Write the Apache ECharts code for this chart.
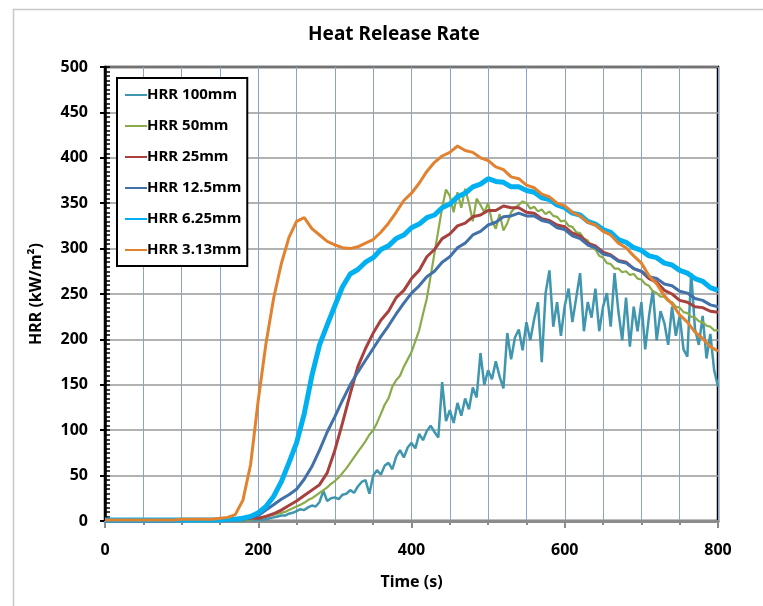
<!DOCTYPE html>
<html lang="en">
<head>
<meta charset="UTF-8">
<title>Heat Release Rate</title>
<script src="https://cdn.jsdelivr.net/npm/echarts@6/dist/echarts.min.js"></script>
<style>
  html, body { margin: 0; padding: 0; background: #fff; }
  #main { width: 763px; height: 606px; }
</style>
</head>
<body>
<div id="main"></div>
<script>
// sample times (s): the noisy 100mm / 50mm runs are read every 5 s, the rest every 10 s
var time5 = [];
for (var i = 0; i <= 160; i++) time5.push(i * 5);
var time10 = [];
for (var j = 0; j <= 80; j++) time10.push(j * 10);

var seriesNames = ['HRR 100mm', 'HRR 50mm', 'HRR 25mm', 'HRR 12.5mm', 'HRR 6.25mm', 'HRR 3.13mm'];
var xTicks = [0, 200, 400, 600, 800];
var yTicks = [0, 50, 100, 150, 200, 250, 300, 350, 400, 450, 500];

// HRR 100mm, every 5 s
var hrr100 = [
  0, 0, 0, 0, 0, 0, 0, 0, 0, 0,
  0, 0, 0, 0, 0, 0, 0, 0, 0, 0,
  0, 0, 0, 0, 0, 0, 0, 0, 0, 0,
  0, 0, 0, 0, 0, 0, 0, 1, 1, 1,
  1, 1, 2, 3, 4, 5, 6, 6, 8, 9,
  11, 13, 12, 15, 17, 16, 21, 33, 22, 25,
  26, 24, 29, 30, 34, 31, 38, 43, 45, 30,
  50, 56, 51, 61, 64, 57, 71, 78, 70, 81,
  86, 80, 96, 89, 99, 105, 98, 92, 153, 110,
  122, 108, 130, 116, 135, 123, 147, 136, 185, 150,
  166, 156, 176, 159, 146, 207, 178, 202, 211, 188,
  219, 199, 222, 241, 175, 251, 276, 214, 241, 204,
  237, 256, 219, 246, 273, 209, 241, 224, 256, 209,
  236, 251, 214, 273, 231, 199, 246, 192, 236, 209,
  241, 189, 226, 254, 199, 231, 218, 194, 236, 204,
  226, 189, 181, 273, 211, 194, 226, 179, 206, 166,
  148
];

// HRR 50mm, every 5 s
var hrr50 = [
  0, 0, 0, 0, 0, 0, 0, 0, 0, 0,
  0, 0, 0, 0, 0, 0, 0, 0, 0, 0,
  0, 0, 0, 0, 0, 0, 0, 0, 0, 0,
  0, 1, 1, 1, 1, 1, 1, 1, 2, 2,
  3, 4, 5, 6, 7, 8, 9, 10, 12, 14,
  16, 18, 20, 23, 25, 28, 31, 34, 37, 41,
  44, 48, 53, 58, 64, 70, 76, 82, 88, 95,
  100, 108, 118, 128, 135, 148, 155, 160, 170, 178,
  186, 198, 210, 228, 245, 270, 295, 320, 345, 365,
  358, 340, 362, 345, 366, 350, 330, 355, 348, 340,
  350, 330, 322, 338, 320, 328, 340, 345, 348, 352,
  350, 344, 346, 341, 343, 338, 341, 336, 335, 330,
  331, 325, 324, 318, 317, 311, 309, 301, 299, 292,
  290, 284, 283, 278, 278, 274, 275, 271, 272, 267,
  266, 261, 259, 253, 251, 247, 247, 242, 241, 236,
  235, 230, 229, 225, 224, 220, 219, 215, 214, 210,
  210
];

// HRR 25mm, every 10 s
var hrr25 = [
  0, 0, 0, 0, 0, 0, 0, 0, 0, 0,
  1, 1, 1, 1, 1, 1, 1, 1, 2, 3,
  3, 5, 8, 12, 17, 22, 28, 34, 40, 53,
  78, 108, 140, 170, 190, 207, 221, 231, 246, 254,
  267, 276, 291, 299, 311, 316, 325, 328, 335, 337,
  342, 342, 347, 345, 345, 340, 339, 333, 331, 326,
  324, 317, 314, 306, 303, 296, 293, 287, 285, 278,
  275, 267, 263, 254, 250, 243, 241, 236, 235, 231,
  230
];

// HRR 12.5mm, every 10 s
var hrr12 = [
  0, 0, 0, 0, 0, 0, 0, 0, 0, 0,
  1, 1, 1, 1, 1, 1, 1, 2, 3, 4,
  6, 12, 18, 24, 29, 35, 46, 60, 78, 98,
  115, 133, 150, 164, 177, 190, 203, 215, 228, 240,
  251, 259, 269, 275, 285, 291, 301, 306, 315, 319,
  326, 329, 335, 336, 339, 336, 336, 331, 329, 323,
  321, 314, 311, 304, 301, 294, 292, 286, 284, 278,
  275, 269, 267, 261, 259, 253, 251, 245, 243, 238,
  236
];

// HRR 6.25mm, every 10 s
var hrr6 = [
  1, 1, 1, 1, 1, 1, 1, 1, 1, 1,
  1, 1, 1, 1, 1, 1, 2, 2, 3, 5,
  9, 16, 27, 43, 64, 86, 118, 160, 194, 216,
  237, 258, 272, 277, 285, 290, 299, 303, 311, 315,
  323, 327, 334, 337, 345, 349, 357, 361, 368, 371,
  377, 374, 373, 368, 368, 364, 362, 356, 354, 348,
  345, 339, 337, 330, 327, 321, 318, 310, 307, 301,
  298, 292, 290, 284, 282, 276, 273, 267, 264, 257,
  254
];

// HRR 3.13mm, every 10 s
var hrr3 = [
  1, 1, 1, 1, 1, 1, 1, 1, 1, 1,
  2, 2, 2, 2, 2, 3, 4, 7, 23, 62,
  133, 195, 245, 283, 312, 330, 334, 322, 315, 308,
  304, 301, 300, 302, 306, 310, 318, 328, 340, 353,
  361, 372, 385, 395, 402, 406, 413, 408, 406, 400,
  397, 390, 387, 379, 377, 370, 367, 360, 357, 350,
  347, 340, 336, 329, 326, 319, 315, 306, 301, 292,
  284, 270, 261, 248, 239, 227, 219, 208, 201, 192,
  187
];

var seriesData = [hrr100, hrr50, hrr25, hrr12, hrr6, hrr3];
var seriesTimes = [time5, time5, time10, time10, time10, time10];
var colors = ['#3f96ae', '#8aab4a', '#a8403d', '#4270a8', '#00b0f0', '#e2822f'];
var widths = [2.5, 2.2, 3, 3, 5, 3];

function pairs(t, v) {
  var out = [];
  for (var k = 0; k < v.length; k++) out.push([t[k], v[k]]);
  return out;
}

var font = 'Noto Sans';
var series = [];
for (var s = 0; s < seriesNames.length; s++) {
  series.push({
    name: seriesNames[s],
    type: 'line',
    xAxisIndex: 0,
    yAxisIndex: 0,
    showSymbol: false,
    symbol: 'none',
    data: pairs(seriesTimes[s], seriesData[s]),
    lineStyle: { color: colors[s], width: widths[s] },
    itemStyle: { color: colors[s] }
  });
}

var chart = echarts.init(document.getElementById('main'));
var option = {
  animation: false,
  backgroundColor: '#fff',
  textStyle: { fontFamily: font },
  title: {
    text: 'Heat Release Rate',
    left: 303,
    top: 20,
    textStyle: { fontFamily: font, fontSize: 19, fontWeight: 'bold', color: '#000' }
  },
  graphic: [{
    // chart area frame
    type: 'rect',
    left: 11,
    top: 7,
    shape: { width: 800, height: 700 },
    style: { fill: 'none', stroke: '#c8c8c8', lineWidth: 1.5 },
    z: -10
  }],
  legend: {
    orient: 'vertical',
    left: 117,
    top: 78,
    data: seriesNames,
    itemWidth: 22,
    itemHeight: 14,
    itemGap: 15,
    padding: [9, 6, 8, 7],
    borderColor: '#000',
    borderWidth: 2,
    backgroundColor: '#fff',
    itemStyle: { opacity: 0 },
    textStyle: { fontFamily: font, fontSize: 15, fontWeight: 'bold', color: '#000', lineHeight: 16, padding: [0, 0, 0, -5] }
  },
  grid: {
    left: 105,
    right: 45,
    top: 67,
    bottom: 85,
    show: true,
    borderColor: '#000',
    borderWidth: 2.5,
    backgroundColor: 'transparent'
  },
  xAxis: [{
    type: 'value',
    min: xTicks[0],
    max: xTicks[xTicks.length - 1],
    interval: 200,
    name: 'Time (s)',
    nameLocation: 'middle',
    nameGap: 53,
    nameTextStyle: { fontFamily: font, fontSize: 16, fontWeight: 'bold', color: '#000' },
    axisLine: { lineStyle: { color: '#8c8c8c', width: 3 } },
    axisTick: { length: 7, lineStyle: { color: '#8c8c8c', width: 2 } },
    axisLabel: { fontFamily: font, fontSize: 16, fontWeight: 'bold', color: '#000', margin: 21 },
    splitLine: { show: false }
  }, {
    // minor ticks + blue grid every 50 s
    type: 'value',
    position: 'bottom',
    min: 0,
    max: 800,
    interval: 50,
    axisLine: { show: false },
    axisTick: { length: 4, lineStyle: { color: '#8c8c8c', width: 2 } },
    axisLabel: { show: false },
    splitLine: { show: true, lineStyle: { color: '#86a5d3', width: 1 } }
  }],
  yAxis: [{
    type: 'value',
    min: yTicks[0],
    max: yTicks[yTicks.length - 1],
    interval: 50,
    name: 'HRR (kW/m²)',
    nameLocation: 'middle',
    nameGap: 61,
    nameTextStyle: { fontFamily: font, fontSize: 16, fontWeight: 'bold', color: '#000' },
    axisLine: { show: true, lineStyle: { color: '#000', width: 2.5 } },
    axisTick: { show: true, length: 5, lineStyle: { color: '#000', width: 2 } },
    axisLabel: { fontFamily: font, fontSize: 16, fontWeight: 'bold', color: '#000', margin: 17 },
    splitLine: { show: true, lineStyle: { color: '#999', width: 1.5 } }
  }, {
    // inside minor ticks every 5
    type: 'value',
    position: 'left',
    min: 0,
    max: 500,
    interval: 5,
    axisLine: { show: false },
    axisTick: { show: true, inside: true, length: 5, lineStyle: { color: '#000', width: 1.5 } },
    axisLabel: { show: false },
    splitLine: { show: false }
  }],
  series: series
};
chart.setOption(option);
</script>
</body>
</html>
